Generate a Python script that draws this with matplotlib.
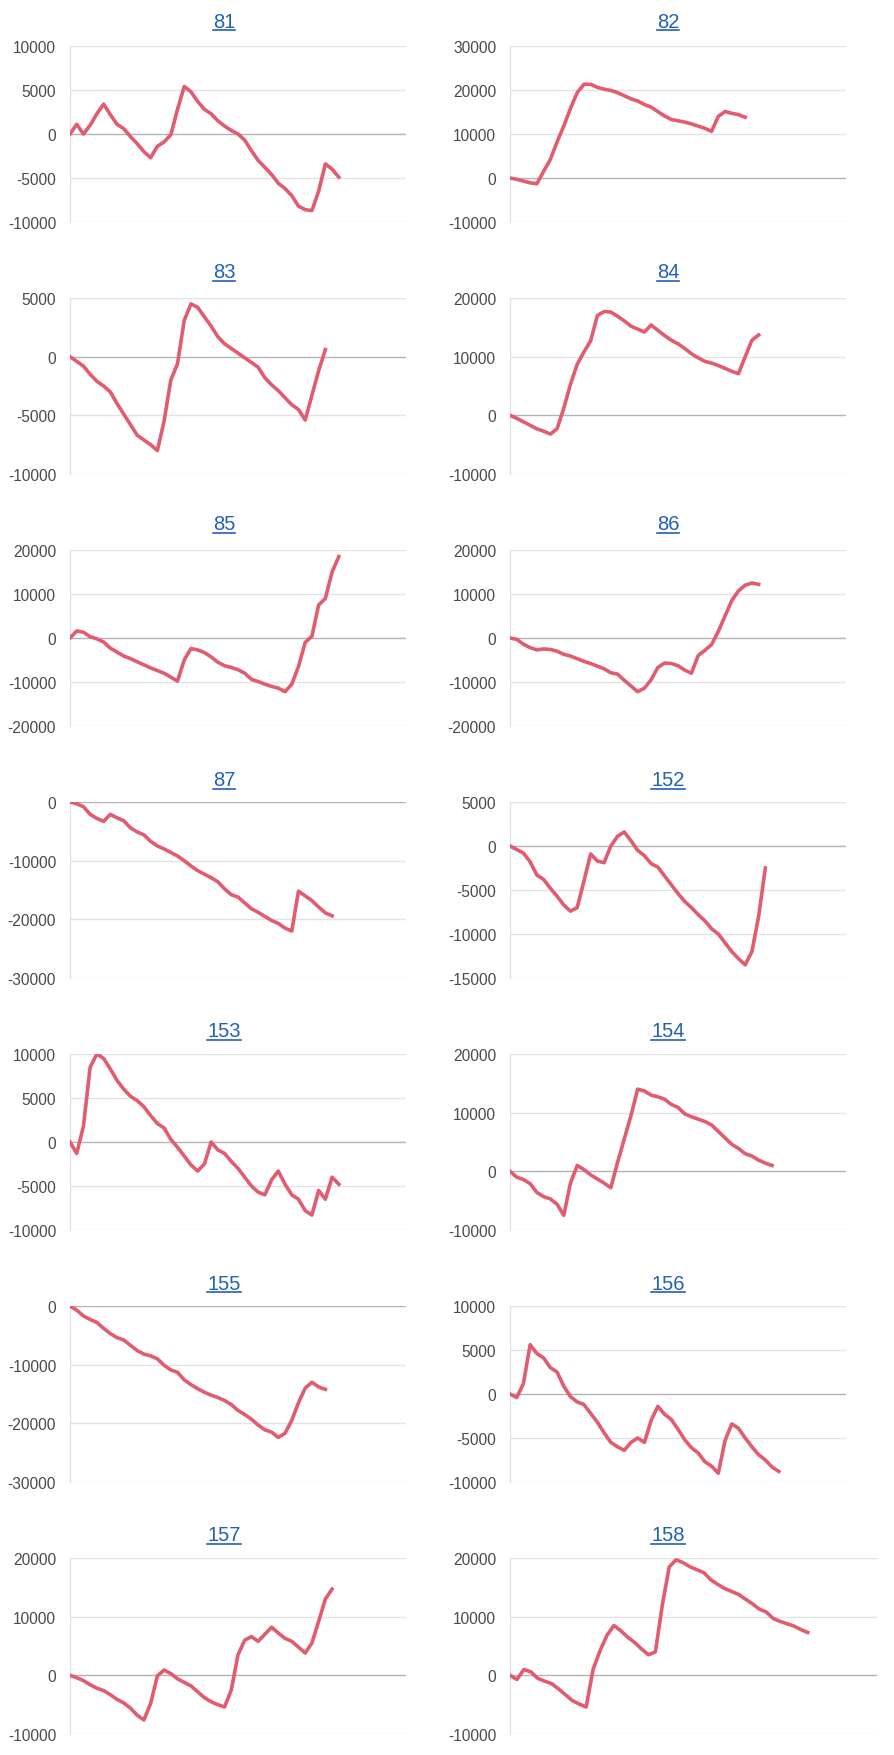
import matplotlib

matplotlib.use("Agg")

import matplotlib.pyplot as plt
from matplotlib.lines import Line2D
from matplotlib.ticker import FixedLocator

plt.rcParams["font.family"] = ["Liberation Sans", "DejaVu Sans"]
plt.rcParams["axes.unicode_minus"] = False

# cumulative series per chart
s81 = [0, 1100, 0, 1000, 2300, 3400, 2200, 1100, 600, -300, -1100, -2000, -2700, -1400,
       -900, -100, 2800, 5400, 4800, 3700, 2800, 2300, 1500, 900, 400, 0, -700, -1900,
       -3000, -3800, -4600, -5600, -6200, -7000, -8200, -8600, -8700, -6500, -3400, -4000, -4900]
s82 = [0, -300, -700, -1100, -1300, 1500, 4200, 8200, 11800, 15800, 19400, 21300, 21300,
       20600, 20200, 19900, 19400, 18700, 18000, 17500, 16700, 16100, 15100, 14100, 13300,
       13000, 12700, 12300, 11800, 11300, 10600, 14000, 15100, 14700, 14400, 13800]
s83 = [0, -400, -800, -1500, -2100, -2500, -3000, -4000, -4900, -5800, -6700, -7100, -7500,
       -8000, -5500, -2000, -600, 3100, 4500, 4200, 3400, 2600, 1700, 1100, 700, 300, -100,
       -500, -900, -1800, -2400, -2900, -3500, -4100, -4500, -5400, -3300, -1200, 600]
s84 = [0, -500, -1100, -1700, -2300, -2700, -3200, -2300, 1200, 5300, 8700, 10800, 12700,
       17000, 17700, 17600, 16900, 16100, 15200, 14700, 14200, 15400, 14500, 13600, 12800,
       12200, 11400, 10500, 9800, 9200, 8900, 8500, 8000, 7500, 7100, 10000, 12800, 13700]
s85 = [0, 1600, 1300, 300, -200, -900, -2300, -3200, -4100, -4700, -5400, -6100, -6800,
       -7400, -8000, -8900, -9800, -5000, -2400, -2700, -3300, -4300, -5500, -6300, -6700,
       -7200, -8000, -9400, -9900, -10500, -11000, -11400, -12200, -10500, -6500, -1000,
       400, 7500, 9000, 15000, 18500]
s86 = [0, -300, -1400, -2200, -2700, -2500, -2600, -3000, -3700, -4100, -4700, -5300, -5800,
       -6400, -7000, -7900, -8200, -9600, -10900, -12200, -11400, -9500, -6700, -5700, -5800,
       -6300, -7300, -8000, -4000, -2800, -1500, 1500, 5000, 8500, 10700, 12000, 12500, 12200]
s87 = [0, -300, -800, -2100, -2800, -3300, -2100, -2700, -3200, -4400, -5100, -5600, -6700,
       -7500, -8000, -8600, -9200, -10000, -10900, -11700, -12300, -12900, -13600, -14800,
       -15800, -16200, -17200, -18200, -18800, -19500, -20200, -20700, -21500, -22000,
       -15200, -16000, -16800, -17900, -18900, -19400]
s152 = [0, -400, -800, -1800, -3300, -3800, -4800, -5700, -6700, -7400, -7000, -4000, -900,
        -1700, -1900, 0, 1100, 1600, 600, -500, -1100, -2000, -2400, -3400, -4400, -5400,
        -6300, -7000, -7800, -8500, -9400, -10000, -11000, -12000, -12800, -13500, -12000,
        -8000, -2500]
s153 = [0, -1300, 1800, 8500, 10000, 9500, 8300, 7000, 6000, 5200, 4700, 4000, 3000, 2100,
        1600, 300, -600, -1600, -2600, -3300, -2500, 0, -900, -1300, -2200, -3000, -4000,
        -5000, -5700, -6000, -4300, -3300, -4800, -6000, -6500, -7800, -8300, -5500, -6500,
        -4000, -4800]
s154 = [0, -1000, -1400, -2100, -3600, -4300, -4700, -5600, -7500, -2000, 1000, 300, -600,
        -1300, -2000, -2800, 1500, 5500, 9500, 14000, 13700, 13000, 12700, 12300, 11400,
        10900, 9800, 9300, 8900, 8500, 7900, 6800, 5700, 4600, 3900, 3000, 2600, 1900, 1400, 1000]
s155 = [0, -700, -1700, -2300, -2800, -3800, -4700, -5400, -5800, -6700, -7600, -8200, -8500,
        -9000, -10100, -10900, -11300, -12600, -13400, -14100, -14700, -15200, -15600,
        -16100, -16800, -17800, -18500, -19300, -20300, -21100, -21500, -22400, -21700,
        -19500, -16500, -14000, -13000, -13800, -14200]
s156 = [0, -400, 1200, 5600, 4600, 4100, 3000, 2500, 900, -300, -900, -1200, -2200, -3200,
        -4400, -5500, -6000, -6400, -5500, -5000, -5500, -3000, -1400, -2300, -2900, -4000,
        -5200, -6100, -6700, -7700, -8200, -9000, -5300, -3400, -3900, -5000, -6000, -6900,
        -7500, -8300, -8800]
s157 = [0, -400, -900, -1600, -2200, -2600, -3300, -4100, -4700, -5600, -6800, -7600, -4800,
        -100, 900, 300, -600, -1200, -1800, -2800, -3800, -4500, -5000, -5400, -2500, 3500,
        6000, 6600, 5800, 7000, 8200, 7200, 6300, 5800, 4800, 3800, 5500, 9200, 13000, 14700]
s158 = [0, -700, 1000, 600, -500, -1000, -1400, -2300, -3300, -4300, -4900, -5400, 1000,
        4200, 6800, 8500, 7600, 6500, 5600, 4500, 3500, 4000, 12000, 18500, 19700, 19200,
        18500, 18000, 17500, 16300, 15500, 14800, 14300, 13800, 13000, 12200, 11300, 10800,
        9700, 9200, 8800, 8400, 7800, 7300]

titles = ["81", "82", "83", "84", "85", "86", "87", "152", "153", "154", "155", "156", "157", "158"]
series = [s81, s82, s83, s84, s85, s86, s87, s152, s153, s154, s155, s156, s157, s158]
# (ymin, ymax, step) of each value axis
y_axes = [(-10000, 10000, 5000), (-10000, 30000, 10000), (-10000, 5000, 5000),
          (-10000, 20000, 10000), (-20000, 20000, 10000), (-20000, 20000, 10000),
          (-30000, 0, 10000), (-15000, 5000, 5000), (-10000, 10000, 5000),
          (-10000, 20000, 10000), (-30000, 0, 10000), (-10000, 10000, 5000),
          (-10000, 20000, 10000), (-10000, 20000, 10000)]

W, H = 894, 1756
LINE = "#e05c6e"
LINK = "#2160b8"
plot_tops = [47, 299, 551, 803, 1055, 1307, 1559]
title_ys = [22, 273, 525, 781, 1032, 1284, 1536]

fig = plt.figure(figsize=(W / 100, H / 100), dpi=100)
fig.patch.set_facecolor("white")

title_texts = []
for k, (name, vals, (lo, hi, step)) in enumerate(zip(titles, series, y_axes)):
    row, col = divmod(k, 2)
    x0 = 70 if col == 0 else 510
    width = 336
    xmax = 50
    if k == len(titles) - 1:
        width = 367
        xmax = 53
    top = plot_tops[row]
    h = 176
    ax = fig.add_axes([x0 / W, 1 - (top + h) / H, width / W, h / H])

    ticks = list(range(lo, hi + 1, step))
    for t in ticks:
        ax.axhline(t, color="#b3b3b3" if t == 0 else "#e3e3e3", lw=1.0, zorder=1)
    ax.plot(range(len(vals)), vals, color=LINE, lw=2.6, zorder=3, solid_joinstyle="round")

    ax.set_xlim(0, xmax)
    ax.set_ylim(lo, hi)
    ax.yaxis.set_major_locator(FixedLocator(ticks))
    ax.set_xticks([])
    ax.tick_params(axis="y", length=0, pad=10, labelsize=11.2, labelcolor="#4a4a4a")
    for side in ("top", "right", "bottom"):
        ax.spines[side].set_visible(False)
    ax.spines["left"].set_color("#e3e3e3")
    ax.spines["left"].set_linewidth(1.0)
    ax.patch.set_alpha(0)

    cx = 224 if col == 0 else 668
    txt = fig.text(cx / W, 1 - title_ys[row] / H, name, ha="center", va="center",
                   fontsize=14.5, color=LINK)
    title_texts.append(txt)

# underline the titles like links
fig.canvas.draw()
renderer = fig.canvas.get_renderer()
for txt in title_texts:
    bb = txt.get_window_extent(renderer)
    y = bb.y0 + 1
    fig.add_artist(Line2D([bb.x0 / W, bb.x1 / W], [y / H, y / H], color=LINK, lw=1.2,
                          transform=fig.transFigure))

fig.savefig("out.png", dpi=100, facecolor="white")
